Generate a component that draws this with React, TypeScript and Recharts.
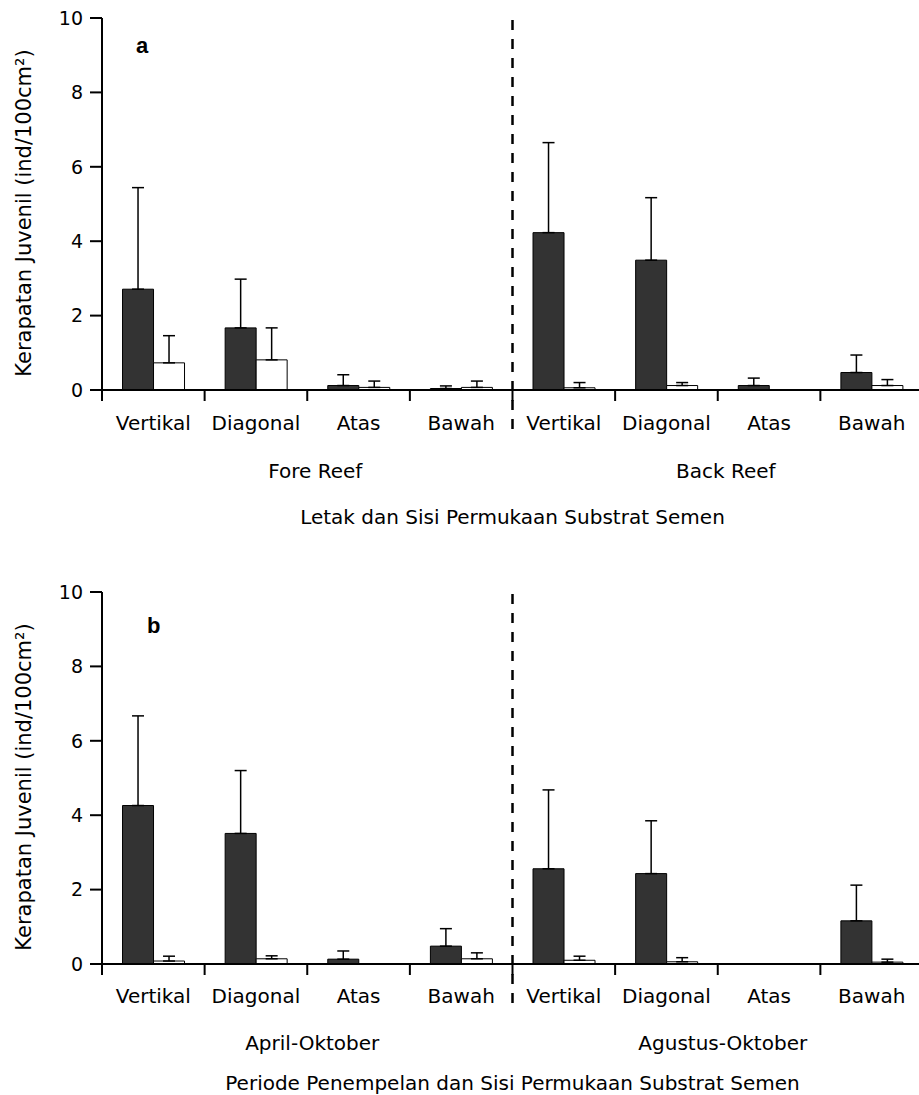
import React from "react";
import { BarChart, Bar, XAxis, YAxis, ErrorBar } from "recharts";

// surfaces repeat inside each group on the x axis
const surfaces = ["Vertikal", "Diagonal", "Atas", "Bawah"];
const yTicks = [0, 2, 4, 6, 8, 10];

// panel a: reef position
const reefGroups = ["Fore Reef", "Back Reef"];
const reefDark = [2.71, 1.67, 0.12, 0.04, 4.23, 3.49, 0.12, 0.47];
const reefDarkErr = [2.73, 1.31, 0.29, 0.07, 2.42, 1.68, 0.2, 0.47];
const reefLight = [0.73, 0.81, 0.07, 0.07, 0.06, 0.12, 0, 0.12];
const reefLightErr = [0.73, 0.86, 0.17, 0.17, 0.14, 0.08, 0, 0.16];

// panel b: settlement period
const periodGroups = ["April-Oktober", "Agustus-Oktober"];
const periodDark = [4.26, 3.51, 0.13, 0.48, 2.56, 2.43, 0, 1.16];
const periodDarkErr = [2.41, 1.69, 0.22, 0.47, 2.12, 1.42, 0, 0.96];
const periodLight = [0.08, 0.14, 0, 0.14, 0.1, 0.06, 0, 0.05];
const periodLightErr = [0.13, 0.08, 0, 0.16, 0.11, 0.11, 0, 0.08];

const FONT = "'DejaVu Sans', sans-serif";
const INK = "#000";

type Row = { cat: string; dark: number; darkErr: number; light: number; lightErr: number };

function buildRows(groups: string[], dark: number[], darkErr: number[], light: number[], lightErr: number[]): Row[] {
  return groups.flatMap((_, gi) =>
    surfaces.map((cat, si) => {
      const i = gi * surfaces.length + si;
      return { cat, dark: dark[i], darkErr: darkErr[i], light: light[i], lightErr: lightErr[i] };
    })
  );
}

const reefRows = buildRows(reefGroups, reefDark, reefDarkErr, reefLight, reefLightErr);
const periodRows = buildRows(periodGroups, periodDark, periodDarkErr, periodLight, periodLightErr);

// x tick: boundary tick mark on the left edge of each band, surface label,
// group label under the first band of a group and the dashed divider between groups
function SurfaceTick(props: any) {
  const { x, y, payload, index, groups, plotHeight, labelDy, groupDy, groupDx, dividerBelow } = props;
  const half = payload?.offset ?? 0;
  const left = x - half;
  const per = surfaces.length;
  const firstOfGroup = index % per === 0;
  const text = { fill: INK, fontSize: 20, fontFamily: FONT, textAnchor: "middle" as const };
  return (
    <g>
      <line x1={left} x2={left} y1={y} y2={y + 11} stroke={INK} strokeWidth={2} />
      <text x={x} y={y + labelDy} {...text}>
        {payload.value}
      </text>
      {firstOfGroup && (
        <text x={left + half * per + groupDx} y={y + groupDy} {...text}>
          {groups[index / per]}
        </text>
      )}
      {firstOfGroup && index > 0 && (
        <line
          x1={left}
          x2={left}
          y1={y - plotHeight + 2}
          y2={y + dividerBelow}
          stroke={INK}
          strokeWidth={2.5}
          strokeDasharray="10 9"
        />
      )}
    </g>
  );
}

function Panel({
  rows,
  groups,
  title,
  height,
  top,
  bottom,
  labelDy,
  groupDy,
  groupDx,
  titleGap,
  dividerBelow,
  yLabelShift,
}: {
  rows: Row[];
  groups: string[];
  title: string;
  height: number;
  top: number;
  bottom: number;
  labelDy: number;
  groupDy: number;
  groupDx: number;
  titleGap: number;
  dividerBelow: number;
  yLabelShift: number;
}) {
  const plotHeight = height - top - bottom - 1;
  const textStyle = { fill: INK, fontSize: 20, fontFamily: FONT };

  return (
    <BarChart
      width={930}
      height={height}
      data={rows}
      margin={{ top, right: 7, bottom, left: 0 }}
      barCategoryGap="20%"
      barGap={0}
    >
      <XAxis
        dataKey="cat"
        interval={0}
        height={1}
        axisLine={{ stroke: INK, strokeWidth: 2 }}
        tickLine={false}
        tickSize={0}
        tickMargin={0}
        tick={
          <SurfaceTick
            groups={groups}
            plotHeight={plotHeight}
            labelDy={labelDy}
            groupDy={groupDy}
            groupDx={groupDx}
            dividerBelow={dividerBelow}
          />
        }
        label={{ value: title, position: "bottom", offset: titleGap, ...textStyle, style: textStyle }}
      />
      <YAxis
        domain={[0, 10]}
        ticks={yTicks}
        interval={0}
        width={102}
        tickSize={12}
        tickMargin={7}
        axisLine={{ stroke: INK, strokeWidth: 2 }}
        tickLine={{ stroke: INK, strokeWidth: 2 }}
        tick={{ fill: INK, fontSize: 19, fontFamily: FONT }}
        label={{
          value: "Kerapatan Juvenil (ind/100cm²)",
          content: ({ viewBox, value }: any) => {
            const cx = viewBox.x + 24;
            const cy = viewBox.y + viewBox.height / 2 + yLabelShift;
            return (
              <text
                x={cx}
                y={cy}
                transform={`rotate(-90 ${cx} ${cy})`}
                textAnchor="middle"
                dominantBaseline="central"
                {...textStyle}
                fontSize={21}
              >
                {value}
              </text>
            );
          },
        }}
      />
      <Bar dataKey="dark" fill="#333333" stroke={INK} strokeWidth={1} isAnimationActive={false}>
        <ErrorBar
          dataKey={(d: Row) => [0, d.darkErr]}
          direction="y"
          width={6}
          stroke={INK}
          strokeWidth={1.5}
          isAnimationActive={false}
        />
      </Bar>
      <Bar dataKey="light" fill="#ffffff" stroke={INK} strokeWidth={1} isAnimationActive={false}>
        <ErrorBar
          dataKey={(d: Row) => [0, d.lightErr]}
          direction="y"
          width={6}
          stroke={INK}
          strokeWidth={1.5}
          isAnimationActive={false}
        />
      </Bar>
    </BarChart>
  );
}

export default function App() {
  return (
    <div
      style={{
        position: "fixed",
        left: 0,
        top: 0,
        width: 919,
        height: 1095,
        overflow: "hidden",
        background: "#fff",
      }}
    >
      <div style={{ position: "absolute", left: 0, top: 0 }}>
        <Panel
          rows={reefRows}
          groups={reefGroups}
          title="Letak dan Sisi Permukaan Substrat Semen"
          height={545}
          top={18}
          bottom={154}
          labelDy={40}
          groupDy={88}
          groupDx={8}
          titleGap={119}
          dividerBelow={47}
          yLabelShift={9}
        />
      </div>
      <div style={{ position: "absolute", left: 0, top: 545 }}>
        <Panel
          rows={periodRows}
          groups={periodGroups}
          title="Periode Penempelan dan Sisi Permukaan Substrat Semen"
          height={550}
          top={47}
          bottom={130}
          labelDy={39}
          groupDy={86}
          groupDx={5}
          titleGap={111}
          dividerBelow={46}
          yLabelShift={9}
        />
      </div>
      <svg
        width={919}
        height={1095}
        style={{ position: "absolute", left: 0, top: 0, pointerEvents: "none" }}
      >
        <text x={136} y={53} fontSize={22} fontWeight="bold" fontFamily="'Liberation Sans', Arial, sans-serif" fill={INK}>
          a
        </text>
        <text x={147} y={633} fontSize={22} fontWeight="bold" fontFamily="'Liberation Sans', Arial, sans-serif" fill={INK}>
          b
        </text>
      </svg>
    </div>
  );
}
